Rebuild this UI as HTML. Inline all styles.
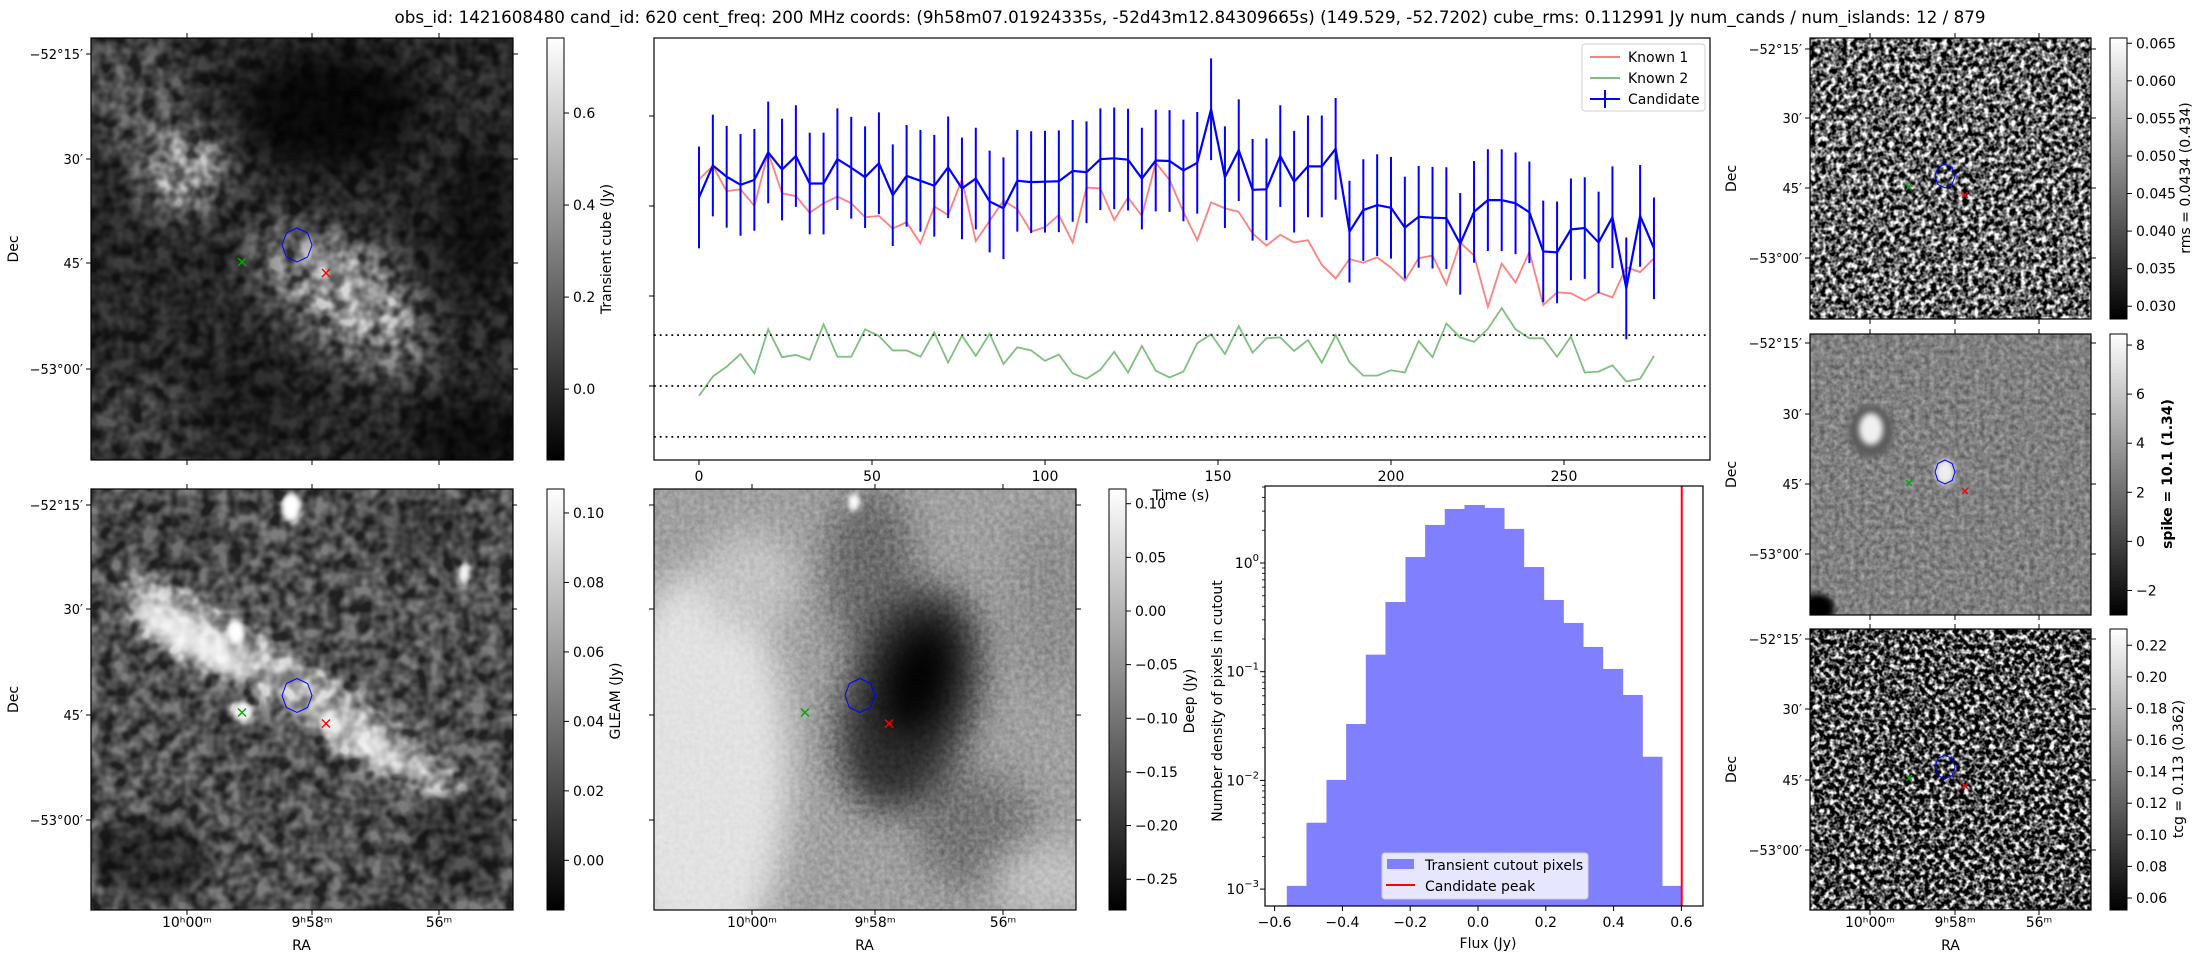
<!DOCTYPE html>
<html><head><meta charset="utf-8"><title>Candidate 620</title>
<style>html,body{margin:0;padding:0;background:#fff}svg{display:block;font-family:"DejaVu Sans","Liberation Sans",sans-serif}.ov{mix-blend-mode:overlay}filter{color-interpolation-filters:sRGB}</style></head>
<body>
<svg id="fig" xmlns="http://www.w3.org/2000/svg" width="2193" height="960" viewBox="0 0 2193 960">
<defs>
<linearGradient id="cbgrad" x1="0" y1="1" x2="0" y2="0"><stop offset="0" stop-color="#000"/><stop offset="1" stop-color="#fff"/></linearGradient>
<filter id="blur8" x="-50%" y="-50%" width="200%" height="200%" color-interpolation-filters="sRGB"><feGaussianBlur stdDeviation="8"/></filter>
<filter id="blur18" x="-50%" y="-50%" width="200%" height="200%" color-interpolation-filters="sRGB"><feGaussianBlur stdDeviation="18"/></filter>
<filter id="blur4" x="-50%" y="-50%" width="200%" height="200%" color-interpolation-filters="sRGB"><feGaussianBlur stdDeviation="3"/></filter>
<filter id="noiseA" x="0" y="0" width="100%" height="100%" color-interpolation-filters="sRGB"><feTurbulence type="fractalNoise" baseFrequency="0.07" numOctaves="2" seed="4"/><feColorMatrix type="matrix" values="1 0 0 0 0 1 0 0 0 0 1 0 0 0 0 0 0 0 0 1"/><feComponentTransfer><feFuncR type="linear" slope="2.2" intercept="-0.6"/><feFuncG type="linear" slope="2.2" intercept="-0.6"/><feFuncB type="linear" slope="2.2" intercept="-0.6"/></feComponentTransfer></filter>
<filter id="noiseB" x="0" y="0" width="100%" height="100%" color-interpolation-filters="sRGB"><feTurbulence type="fractalNoise" baseFrequency="0.19" numOctaves="2" seed="9"/><feColorMatrix type="matrix" values="1 0 0 0 0 1 0 0 0 0 1 0 0 0 0 0 0 0 0 1"/><feComponentTransfer><feFuncR type="linear" slope="2.6" intercept="-0.9"/><feFuncG type="linear" slope="2.6" intercept="-0.9"/><feFuncB type="linear" slope="2.6" intercept="-0.9"/></feComponentTransfer></filter>
<filter id="noiseC" x="0" y="0" width="100%" height="100%" color-interpolation-filters="sRGB"><feTurbulence type="fractalNoise" baseFrequency="0.2" numOctaves="2" seed="21"/><feColorMatrix type="matrix" values="1 0 0 0 0 1 0 0 0 0 1 0 0 0 0 0 0 0 0 1"/><feComponentTransfer><feFuncR type="linear" slope="3" intercept="-1.2"/><feFuncG type="linear" slope="3" intercept="-1.2"/><feFuncB type="linear" slope="3" intercept="-1.2"/></feComponentTransfer></filter>
<filter id="noiseD" x="0" y="0" width="100%" height="100%" color-interpolation-filters="sRGB"><feTurbulence type="fractalNoise" baseFrequency="0.2" numOctaves="2" seed="33"/><feColorMatrix type="matrix" values="1 0 0 0 0 1 0 0 0 0 1 0 0 0 0 0 0 0 0 1"/></filter>
<clipPath id="cTL"><rect x="91" y="38" width="422" height="422"/></clipPath>
<clipPath id="cBL"><rect x="91" y="489" width="422" height="421"/></clipPath>
<clipPath id="cBM"><rect x="654" y="489" width="422" height="421"/></clipPath>
<clipPath id="cR1"><rect x="1810" y="38" width="281" height="281"/></clipPath>
<clipPath id="cR2"><rect x="1810" y="334" width="281" height="281"/></clipPath>
<clipPath id="cR3"><rect x="1810" y="629" width="281" height="281"/></clipPath>
<clipPath id="cLC"><rect x="654" y="38" width="1056" height="422"/></clipPath>
<clipPath id="cH"><rect x="1265" y="486" width="438" height="420"/></clipPath>
</defs>

<text x="1190" y="23" font-size="16.5" text-anchor="middle" textLength="1591" lengthAdjust="spacingAndGlyphs">obs_id: 1421608480 cand_id: 620 cent_freq: 200 MHz coords: (9h58m07.01924335s, -52d43m12.84309665s) (149.529, -52.7202) cube_rms: 0.112991 Jy num_cands / num_islands: 12 / 879</text>

<g clip-path="url(#cTL)" style="isolation:isolate">
<rect x="91" y="38" width="422" height="422" fill="#262626"/>
<g filter="url(#blur18)">
<ellipse cx="130" cy="90" rx="60" ry="60" fill="#4a4a4a"/>
<ellipse cx="183" cy="172" rx="42" ry="38" fill="#9a9a9a"/>
<ellipse cx="340" cy="300" rx="110" ry="48" transform="rotate(38 340 300)" fill="#6a6a6a"/>
<ellipse cx="355" cy="285" rx="60" ry="35" transform="rotate(38 355 285)" fill="#a0a0a0"/>
<ellipse cx="330" cy="110" rx="90" ry="60" fill="#080808"/>
<ellipse cx="480" cy="220" rx="40" ry="80" fill="#111"/>
<ellipse cx="470" cy="440" rx="60" ry="40" fill="#0c0c0c"/>
<ellipse cx="140" cy="420" rx="60" ry="40" fill="#3c3c3c"/>
<ellipse cx="240" cy="400" rx="50" ry="40" fill="#1a1a1a"/>
</g>
<rect class="ov" x="91" y="38" width="422" height="422" filter="url(#noiseA)" opacity="0.6"/>
</g>
<rect x="91" y="38" width="422" height="422" fill="none" stroke="#000" stroke-width="1.2"/>

<g clip-path="url(#cBL)" style="isolation:isolate">
<rect x="91" y="489" width="422" height="421" fill="#4e4e4e"/>
<g filter="url(#blur8)">
<ellipse cx="300" cy="690" rx="210" ry="26" transform="rotate(33 300 690)" fill="#aaa"/>
<ellipse cx="190" cy="640" rx="70" ry="18" transform="rotate(30 190 640)" fill="#f0f0f0"/>
<ellipse cx="360" cy="745" rx="60" ry="14" transform="rotate(33 360 745)" fill="#d0d0d0"/>
<ellipse cx="150" cy="860" rx="60" ry="40" fill="#2a2a2a"/>
<ellipse cx="460" cy="840" rx="50" ry="50" fill="#353535"/>
<ellipse cx="420" cy="530" rx="60" ry="30" fill="#404040"/>
<ellipse cx="170" cy="540" rx="70" ry="40" fill="#474747"/>
</g>
<g filter="url(#blur4)">
<ellipse cx="291" cy="507" rx="10" ry="15" fill="#fff"/>
<ellipse cx="236" cy="632" rx="8" ry="12" fill="#fff"/>
<ellipse cx="464" cy="575" rx="6" ry="12" fill="#eee"/>
<ellipse cx="243" cy="712" rx="11" ry="11" fill="#f4f4f4"/>
<ellipse cx="328" cy="722" rx="9" ry="11" fill="#eee"/>
<ellipse cx="375" cy="745" rx="12" ry="8" fill="#ddd"/>
</g>
<rect class="ov" x="91" y="489" width="422" height="421" filter="url(#noiseA)" opacity="0.6"/>
</g>
<rect x="91" y="489" width="422" height="421" fill="none" stroke="#000" stroke-width="1.2"/>

<g clip-path="url(#cBM)" style="isolation:isolate">
<rect x="654" y="489" width="422" height="421" fill="#a0a0a0"/>
<g filter="url(#blur18)">
<ellipse cx="700" cy="770" rx="90" ry="200" fill="#e2e2e2"/>
<ellipse cx="750" cy="580" rx="50" ry="50" fill="#c4c4c4"/>
<ellipse cx="870" cy="570" rx="45" ry="85" fill="#6a6a6a"/>
<ellipse cx="910" cy="700" rx="65" ry="115" transform="rotate(18 910 700)" fill="#2e2e2e"/>
<ellipse cx="918" cy="680" rx="32" ry="58" transform="rotate(18 918 680)" fill="#000"/>
<ellipse cx="975" cy="830" rx="60" ry="60" fill="#757575"/>
<ellipse cx="1050" cy="600" rx="40" ry="90" fill="#8e8e8e"/>
<ellipse cx="1050" cy="880" rx="60" ry="40" fill="#c0c0c0"/>
</g>
<ellipse cx="854" cy="502" rx="6" ry="9" fill="#fff" filter="url(#blur4)"/>
<rect class="ov" x="654" y="489" width="422" height="421" filter="url(#noiseD)" opacity="0.3"/>
</g>
<rect x="654" y="489" width="422" height="421" fill="none" stroke="#000" stroke-width="1.2"/>

<g clip-path="url(#cR1)">
<rect x="1810" y="38" width="281" height="281" filter="url(#noiseB)"/>
</g>
<rect x="1810" y="38" width="281" height="281" fill="none" stroke="#000" stroke-width="1.2"/>
<g clip-path="url(#cR2)" style="isolation:isolate">
<rect x="1810" y="334" width="281" height="281" fill="#808080"/>
<rect class="ov" x="1810" y="334" width="281" height="281" filter="url(#noiseD)" opacity="0.45"/>
<ellipse cx="1871" cy="431" rx="22" ry="26" fill="#5a5a5a" filter="url(#blur4)"/>
<ellipse cx="1871" cy="429" rx="12" ry="16" fill="#f0f0f0" filter="url(#blur4)"/>
<ellipse cx="1945" cy="472" rx="10" ry="13" fill="#eee" filter="url(#blur4)"/>
<ellipse cx="1818" cy="608" rx="16" ry="14" fill="#000" filter="url(#blur4)"/>
</g>
<rect x="1810" y="334" width="281" height="281" fill="none" stroke="#000" stroke-width="1.2"/>
<g clip-path="url(#cR3)">
<rect x="1810" y="629" width="281" height="281" filter="url(#noiseC)"/>
</g>
<rect x="1810" y="629" width="281" height="281" fill="none" stroke="#000" stroke-width="1.2"/>

<g id="dyn"></g>
</svg>

<script>
// ---------- light curve data ----------
const times = [0,4,8,12,16,20,24,28,32,36,40,44,48,52,56,60,64,68,72,76,80,84,88,92,96,100,104,108,112,116,120,124,128,132,136,140,144,148,152,156,160,164,168,172,176,180,184,188,192,196,200,204,208,212,216,220,224,228,232,236,240,244,248,252,256,260,264,268,272,276];
const candidate = [0.419,0.490,0.465,0.447,0.458,0.519,0.481,0.511,0.450,0.450,0.504,0.485,0.464,0.495,0.424,0.467,0.456,0.445,0.486,0.439,0.461,0.410,0.395,0.456,0.453,0.454,0.455,0.478,0.475,0.504,0.506,0.503,0.461,0.501,0.500,0.479,0.496,0.615,0.464,0.524,0.436,0.437,0.511,0.454,0.488,0.488,0.527,0.343,0.391,0.402,0.396,0.352,0.376,0.374,0.373,0.316,0.387,0.413,0.413,0.406,0.386,0.299,0.297,0.348,0.351,0.319,0.375,0.217,0.378,0.306];
const candidateErr = [0.113];
const known1 = [0.459,0.489,0.433,0.437,0.400,0.519,0.428,0.422,0.385,0.406,0.421,0.406,0.375,0.378,0.350,0.364,0.317,0.399,0.380,0.459,0.322,0.367,0.412,0.393,0.343,0.353,0.380,0.319,0.441,0.439,0.369,0.419,0.378,0.496,0.458,0.387,0.324,0.408,0.395,0.387,0.339,0.312,0.336,0.319,0.324,0.269,0.239,0.282,0.274,0.286,0.263,0.234,0.284,0.290,0.226,0.319,0.290,0.176,0.272,0.230,0.298,0.180,0.208,0.206,0.190,0.208,0.197,0.264,0.253,0.284];
const known2 = [-0.022,0.021,0.043,0.071,0.028,0.126,0.064,0.069,0.058,0.137,0.065,0.065,0.126,0.111,0.079,0.079,0.065,0.119,0.052,0.112,0.067,0.116,0.049,0.086,0.079,0.056,0.070,0.028,0.016,0.036,0.076,0.030,0.089,0.034,0.019,0.032,0.095,0.115,0.071,0.133,0.074,0.106,0.108,0.078,0.102,0.052,0.113,0.053,0.023,0.023,0.035,0.030,0.100,0.064,0.139,0.108,0.098,0.127,0.173,0.126,0.106,0.106,0.065,0.110,0.030,0.032,0.046,0.010,0.016,0.067];
const cubeRms = [0.112991];
const timeTicks = [0,50,100,150,200,250];
const lcYTicks = [0,0.2,0.4,0.6];
// ---------- histogram data ----------
const binEdges = [-0.564,-0.506,-0.447,-0.389,-0.331,-0.273,-0.214,-0.156,-0.098,-0.040,0.019,0.077,0.135,0.194,0.252,0.310,0.368,0.427,0.485,0.543,0.601];
const binDensity = [0.00107,0.00408,0.0101,0.033,0.1435,0.4375,1.135,2.24,3.14,3.42,3.21,2.06,0.918,0.457,0.281,0.169,0.106,0.0611,0.0165,0.00107];
const candidatePeak = [0.601];
const fluxTicks = [-0.6,-0.4,-0.2,0.0,0.2,0.4,0.6];
const fluxTickLabels = ["\u22120.6","\u22120.4","\u22120.2","0.0","0.2","0.4","0.6"];
const densityTickExp = [0,-1,-2,-3];
// ---------- colorbar ticks ----------
const cbTransientTicks = ["0.6","0.4","0.2","0.0"];
const cbTransientVals = [0.6,0.4,0.2,0.0];
const cbGleamTicks = ["0.10","0.08","0.06","0.04","0.02","0.00"];
const cbGleamVals = [0.10,0.08,0.06,0.04,0.02,0.00];
const cbDeepTicks = ["0.10","0.05","0.00","\u22120.05","\u22120.10","\u22120.15","\u22120.20","\u22120.25"];
const cbDeepVals = [0.10,0.05,0.00,-0.05,-0.10,-0.15,-0.20,-0.25];
const cbRmsTicks = ["0.065","0.060","0.055","0.050","0.045","0.040","0.035","0.030"];
const cbRmsVals = [0.065,0.060,0.055,0.050,0.045,0.040,0.035,0.030];
const cbSpikeTicks = ["8","6","4","2","0","\u22122"];
const cbSpikeVals = [8,6,4,2,0,-2];
const cbTcgTicks = ["0.22","0.20","0.18","0.16","0.14","0.12","0.10","0.08","0.06"];
const cbTcgVals = [0.22,0.20,0.18,0.16,0.14,0.12,0.10,0.08,0.06];
const decTicks = ["\u221252\u00b015\u2032","30\u2032","45\u2032","\u221253\u00b000\u2032"];
const raTicks = ["10\u02b000\u1d50","9\u02b058\u1d50","56\u1d50"];

const NS = "http://www.w3.org/2000/svg";
const root = document.getElementById('dyn');
function mk(tag, attrs, parent) {
  const el = document.createElementNS(NS, tag);
  for (const k in attrs) el.setAttribute(k, attrs[k]);
  (parent || root).appendChild(el);
  return el;
}
function txt(x, y, s, size, anchor, parent) {
  const t = mk('text', {x: x, y: y, 'font-size': size, 'text-anchor': anchor || 'middle'}, parent);
  t.textContent = s;
  return t;
}

// ---------- light curve ----------
const lx = t => 699 + t * 3.46;
const ly = v => 386 - v * 450;
const lcG = mk('g', {'clip-path': 'url(#cLC)'});


[cubeRms[0], 0, -cubeRms[0]].forEach((v, i) => {
  const l = mk('line', {x1: 654, x2: 1710, y1: ly(v), y2: ly(v), stroke: '#000', 'stroke-width': 1.8, 'stroke-dasharray': '1.8 4'}, lcG);
  
  
});
function series(vals, color, w, op, name) {
  const p = mk('polyline', {points: vals.map((v, i) => lx(times[i]) + ',' + ly(v)).join(' '), fill: 'none', stroke: color, 'stroke-width': w, opacity: op}, lcG);
  
  
}
series(known1, '#ff0000', 1.8, 0.5, 'known-1-line');
series(known2, '#008000', 1.8, 0.5, 'known-2-line');
candidate.forEach((v, i) => {
  const e = mk('line', {x1: lx(times[i]), x2: lx(times[i]), y1: ly(v + candidateErr[0]), y2: ly(v - candidateErr[0]), stroke: '#0000ff', 'stroke-width': 2}, lcG);
  
  
});
series(candidate, '#0000ff', 2.2, 1, 'candidate-line');
const lcFrame = mk('rect', {x: 654, y: 38, width: 1056, height: 422, fill: 'none', stroke: '#000', 'stroke-width': 1.2});


timeTicks.forEach(t => {
  const tk = mk('line', {x1: lx(t), x2: lx(t), y1: 460, y2: 465, stroke: '#000', 'stroke-width': 1});
  
  
  const tl = txt(lx(t), 481, String(t), 14);
  
  
});
lcYTicks.forEach(v => {
  const tk = mk('line', {x1: 649, x2: 654, y1: ly(v), y2: ly(v), stroke: '#000', 'stroke-width': 1});
  
  
});
const tAx = txt(1181, 500, 'Time (s)', 14);


const lg = mk('g', {});


const lgb = mk('rect', {x: 1582, y: 44, width: 123, height: 67, rx: 3, fill: 'rgba(255,255,255,0.8)', stroke: '#d0d0d0'}, lg);


[['Known 1', '#ff0000', 0.5, 57], ['Known 2', '#008000', 0.5, 78], ['Candidate', '#0000ff', 1, 99]].forEach((d, i) => {
  const ln = mk('line', {x1: 1590, x2: 1620, y1: d[3], y2: d[3], stroke: d[1], 'stroke-width': 2, opacity: d[2]}, lg);
  
  
  if (i === 2) {
    const eb = mk('line', {x1: 1605, x2: 1605, y1: d[3] - 9, y2: d[3] + 9, stroke: d[1], 'stroke-width': 2}, lg);
    
    
  }
  const t = txt(1628, d[3] + 5, d[0], 14, 'start', lg);
  
  
});

// ---------- histogram ----------
const hx = v => 1478 + v * 339;
const hy = d => 563 - Math.log10(d) * 108.7;
const hG = mk('g', {'clip-path': 'url(#cH)'});


binDensity.forEach((d, i) => {
  const x0 = hx(binEdges[i]), x1 = hx(binEdges[i + 1]);
  const b = mk('rect', {x: x0, y: hy(d), width: x1 - x0 + 0.4, height: 906 - hy(d), fill: '#8080ff'}, hG);
  
  
});
const pk = mk('line', {x1: hx(candidatePeak[0]), x2: hx(candidatePeak[0]), y1: 486, y2: 906, stroke: '#ff0000', 'stroke-width': 2}, hG);


const hf = mk('rect', {x: 1265, y: 486, width: 438, height: 420, fill: 'none', stroke: '#000', 'stroke-width': 1.2});


fluxTicks.forEach((v, i) => {
  const tk = mk('line', {x1: hx(v), x2: hx(v), y1: 906, y2: 911, stroke: '#000'});
  
  
  const tl = txt(hx(v), 927, fluxTickLabels[i], 14);
  
  
});
densityTickExp.forEach(e => {
  const y = hy(Math.pow(10, e));
  const tk = mk('line', {x1: 1260, x2: 1265, y1: y, y2: y, stroke: '#000'});
  
  
  for (let m = 2; m < 10; m++) {
    const ym = hy(Math.pow(10, e) * m);
    if (ym > 486 && ym < 906) {
      const mt = mk('line', {x1: 1262, x2: 1265, y1: ym, y2: ym, stroke: '#000', 'stroke-width': 0.8});
      
      
    }
  }
  const t = mk('text', {x: 1259, y: y + 5, 'font-size': 14, 'text-anchor': 'end'});
  
  
  const base = mk('tspan', {}, t); base.textContent = '10';
  const sup = mk('tspan', {'font-size': 10, dy: -7}, t); sup.textContent = e === 0 ? '0' : '\u2212' + (-e);
});
const fx = txt(1488, 948, 'Flux (Jy)', 14);


const dyl = txt(0, 0, 'Number density of pixels in cutout', 14);
dyl.setAttribute('transform', 'translate(1222 701) rotate(-90)');


const hl = mk('g', {});


const hlb = mk('rect', {x: 1382, y: 853, width: 206, height: 46, rx: 3, fill: 'rgba(255,255,255,0.8)', stroke: '#d0d0d0'}, hl);


const hp = mk('rect', {x: 1387, y: 859, width: 27, height: 10, fill: '#8080ff'}, hl);


const hlt1 = txt(1425, 870, 'Transient cutout pixels', 14, 'start', hl);


const hll = mk('line', {x1: 1386, x2: 1415, y1: 885, y2: 885, stroke: '#ff0000', 'stroke-width': 2}, hl);


const hlt2 = txt(1425, 891, 'Candidate peak', 14, 'start', hl);



// ---------- colorbars ----------
function colorbar(x, y0, y1, labels, vals, vTop, vBot, title, name) {
  const w = 17;
  const cb = mk('rect', {x: x, y: y0, width: w, height: y1 - y0, fill: 'url(#cbgrad)', stroke: '#000', 'stroke-width': 1});
  
  
  const cy = v => y0 + (vTop - v) / (vTop - vBot) * (y1 - y0);
  labels.forEach((s, i) => {
    const y = cy(vals[i]);
    const tk = mk('line', {x1: x + w, x2: x + w + 5, y1: y, y2: y, stroke: '#000'});
    
    
    const t = txt(x + w + 9, y + 5, s, 14, 'start');
    
    
  });
  const tt = txt(0, 0, title, 14);
  
  
  return tt;
}
function cbTitle(t, cx, cy, bold) {
  t.setAttribute('transform', 'translate(' + cx + ' ' + cy + ') rotate(-90)');
  if (bold) t.setAttribute('font-weight', 'bold');
}
cbTitle(colorbar(547, 38, 460, cbTransientTicks, cbTransientVals, 0.763, -0.154, 'Transient cube (Jy)', 'transient-colorbar'), 611, 249);
cbTitle(colorbar(547, 489, 910, cbGleamTicks, cbGleamVals, 0.1069, -0.0143, 'GLEAM (Jy)', 'gleam-colorbar'), 620, 701);
cbTitle(colorbar(1109, 489, 910, cbDeepTicks, cbDeepVals, 0.1137, -0.2787, 'Deep (Jy)', 'deep-colorbar'), 1194, 701);
cbTitle(colorbar(2110, 38, 319, cbRmsTicks, cbRmsVals, 0.0657, 0.0283, 'rms = 0.0434 (0.434)', 'rms-colorbar'), 2190, 178);
cbTitle(colorbar(2110, 334, 615, cbSpikeTicks, cbSpikeVals, 8.45, -3.0, 'spike = 10.1 (1.34)', 'spike-colorbar'), 2172, 474, true);
cbTitle(colorbar(2110, 629, 910, cbTcgTicks, cbTcgVals, 0.2303, 0.0524, 'tcg = 0.113 (0.362)', 'tcg-colorbar'), 2183, 769);

// ---------- sky image axes ----------
function skyAxes(x0, y0, size, decYs, raXs, showRA, decLabelX) {
  decYs.forEach((y, i) => {
    [[x0 - 5, x0], [x0 + size, x0 + size + 5]].forEach(p => {
      const tk = mk('line', {x1: p[0], x2: p[1], y1: y, y2: y, stroke: '#000'});
      
      
    });
    const t = txt(x0 - 8, y + 5, decTicks[i], 13, 'end');
    
    
  });
  raXs.forEach((x, i) => {
    [[y0 - 5, y0], [y0 + size, y0 + size + 5]].forEach(p => {
      const tk = mk('line', {x1: x, x2: x, y1: p[0], y2: p[1], stroke: '#000'});
      
      
    });
    if (showRA) {
      const t = txt(x, 927, raTicks[i], 14);
      
      
    }
  });
  if (showRA) {
    const r = txt(x0 + size / 2, 950, 'RA', 14);
    
    
  }
  if (decLabelX) {
    const d = txt(0, 0, 'Dec', 14);
    d.setAttribute('transform', 'translate(' + decLabelX + ' ' + (y0 + size / 2) + ') rotate(-90)');
    
    
  }
}
skyAxes(91, 38, 422, [54, 159, 263, 369], [187, 312, 439], false, 18);
skyAxes(91, 489, 421, [505, 609, 715, 820], [187, 312, 439], true, 18);
skyAxes(654, 489, 421, [], [752, 875, 1003], true, 0);
[[654, 505], [654, 609], [654, 715], [654, 820], [1076, 505], [1076, 609], [1076, 715], [1076, 820]].forEach((p, i) => {
  const tk = mk('line', {x1: p[0] + (i < 4 ? -5 : 0), x2: p[0] + (i < 4 ? 0 : 5), y1: p[1], y2: p[1], stroke: '#000'});
  
  
});
skyAxes(1810, 38, 281, [49, 118, 188, 258], [1870, 1955, 2039], false, 1736);
skyAxes(1810, 334, 281, [343, 414, 484, 554], [1870, 1955, 2039], false, 1736);
skyAxes(1810, 629, 281, [639, 709, 780, 850], [1870, 1955, 2039], true, 1736);

// ---------- markers ----------
function hexPoly(cx, cy, rx, ry) {
  const pts = [];
  for (let k = 0; k < 8; k++) {
    const a = Math.PI / 2 + k * Math.PI / 4;
    pts.push((cx + rx * Math.cos(a)).toFixed(1) + ',' + (cy - ry * Math.sin(a)).toFixed(1));
  }
  const p = mk('polygon', {points: pts.join(' '), fill: 'none', stroke: '#0000ff', 'stroke-width': 1});
  
  
}
function cross(cx, cy, color, s, name) {
  const g = mk('g', {stroke: color, 'stroke-width': 1.4});
  
  
  mk('line', {x1: cx - s, y1: cy - s, x2: cx + s, y2: cy + s}, g);
  mk('line', {x1: cx - s, y1: cy + s, x2: cx + s, y2: cy - s}, g);
}
[[38, 422, 91], [489, 421, 91], [489, 421, 654]].forEach(p => {
  const k = p[1] / 422;
  hexPoly(p[2] + 206, p[0] + 207 * k, 15, 17);
  cross(p[2] + 151, p[0] + 224 * k, '#00aa00', 4, 'known-2-marker');
  cross(p[2] + 235, p[0] + 235 * k, '#ff0000', 4, 'known-1-marker');
});
[38, 334, 629].forEach(y0 => {
  hexPoly(1945, y0 + 138, 10, 12);
  cross(1909, y0 + 149, '#00aa00', 3, 'known-2-marker');
  cross(1965, y0 + 157, '#ff0000', 3, 'known-1-marker');
});
</script>
</body></html>
